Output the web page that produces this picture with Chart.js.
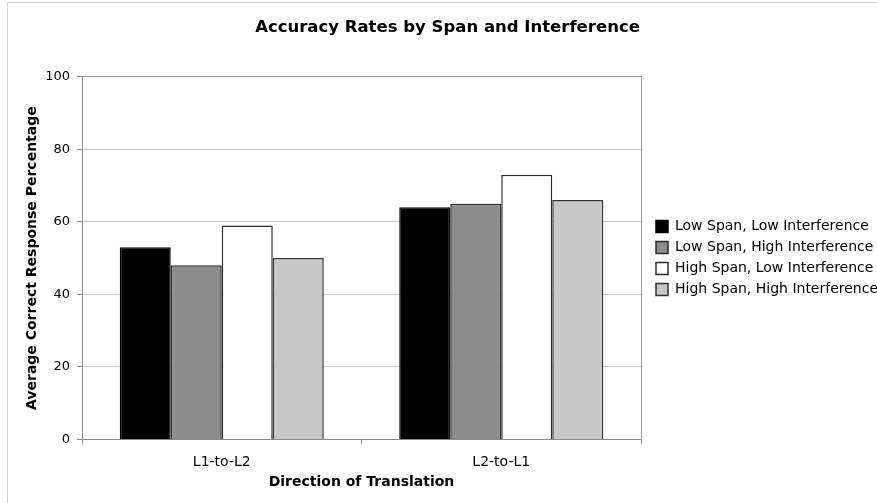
<!DOCTYPE html>
<html>
<head>
<style>
    body { margin: 0; background: #fff; overflow: hidden; }
    #frame { position: absolute; left: 7px; top: 2px; width: 870px; height: 501px; border-left: 1px solid #d6d6d6; border-top: 1px solid #d6d6d6; }
    #div { position: absolute; left: 0; top: 0; width: 877px; height: 503px; }
</style>
</head>
<body>
<div id="frame"></div>
<div id="div">
    <canvas id="chart"></canvas>
</div>

<script src="https://cdn.jsdelivr.net/npm/chart.js"></script>

<script type="text/javascript">
    // data
    const directions = ['L1-to-L2', 'L2-to-L1'];
    const groupNames = ['Low Span, Low Interference', 'Low Span, High Interference',
        'High Span, Low Interference', 'High Span, High Interference'];
    const lowSpanLowInt = [53, 64];
    const lowSpanHighInt = [48, 65];
    const highSpanLowInt = [59, 73];
    const highSpanHighInt = [50, 66];
    const yTicks = [0, 20, 40, 60, 80, 100];

    const fills = ['#000000', '#8c8c8c', '#ffffff', '#c8c8c8'];
    const edges = ['#000000', '#2a2a2a', '#2a2a2a', '#333333'];

    Chart.defaults.font.family = 'DejaVu Sans';
    Chart.defaults.color = '#000';

    const series = [lowSpanLowInt, lowSpanHighInt, highSpanLowInt, highSpanHighInt];

    new Chart(document.getElementById('chart'), {
        type: 'bar',
        data: {
            labels: directions,
            datasets: series.map((vals, i) => ({
                label: groupNames[i],
                data: vals,
                yAxisID: 'y',
                backgroundColor: fills[i],
                borderColor: edges[i],
                borderWidth: 1.5,
                categoryPercentage: 0.73,
                barPercentage: 1.0
            }))
        },
        options: {
            responsive: true,
            maintainAspectRatio: false,
            animation: false,
            layout: {
                padding: { left: 18, right: 0, top: 8, bottom: 12 }
            },
            scales: {
                x: {
                    offset: true,
                    grid: {
                        offset: true,
                        drawOnChartArea: false,
                        tickLength: 5,
                        tickColor: '#8a8a8a'
                    },
                    border: { color: '#8a8a8a' },
                    ticks: { padding: 10, font: { size: 14 } },
                    title: {
                        display: true,
                        text: 'Direction of Translation',
                        font: { size: 14, weight: 'bold' },
                        padding: { top: -7, bottom: 0 }
                    }
                },
                y: {
                    min: 0,
                    max: 100,
                    afterBuildTicks: (scale) => {
                        scale.ticks = yTicks.map(v => ({ value: v }));
                    },
                    afterFit: (scale) => { scale.width = 64; },
                    grid: {
                        color: (ctx) => ctx.tick && ctx.tick.value === 100 ? '#9a9a9a' : '#c8c8c8',
                        tickColor: '#8a8a8a',
                        tickLength: 5
                    },
                    border: { color: '#8a8a8a' },
                    ticks: { padding: 7, font: { size: 13 } },
                    title: {
                        display: true,
                        text: 'Average Correct Response Percentage',
                        font: { size: 14, weight: 'bold' },
                        padding: { top: 6, bottom: 4 }
                    }
                },
                yRight: {
                    position: 'right',
                    min: 0,
                    max: 100,
                    grid: { display: false },
                    ticks: { display: false },
                    border: { display: true, color: '#9a9a9a' },
                    afterFit: (scale) => { scale.width = 8; }
                }
            },
            plugins: {
                title: {
                    display: true,
                    text: 'Accuracy Rates by Span and Interference',
                    font: { size: 16.5, weight: 'bold' },
                    padding: { top: 10, bottom: 39 }
                },
                legend: {
                    position: 'right',
                    fullSize: false,
                    maxWidth: 228,
                    labels: {
                        boxWidth: 12,
                        boxHeight: 12,
                        padding: 7,
                        font: { size: 14 }
                    }
                },
                tooltip: { enabled: false }
            }
        }
    });
</script>
</body>
</html>
